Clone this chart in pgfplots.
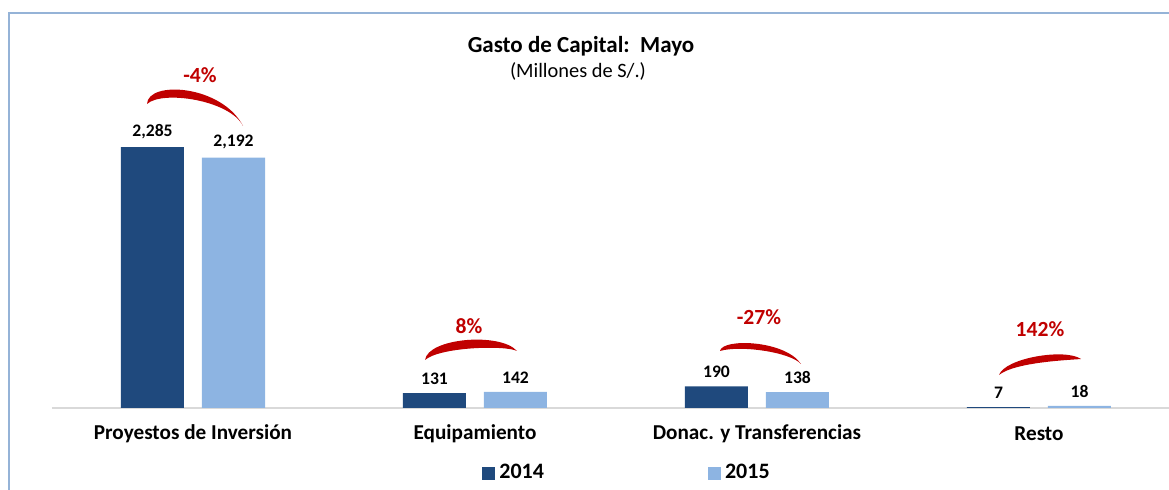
\documentclass[border=0pt]{standalone}
\usepackage{pgfplots}
\pgfplotsset{compat=1.18}
\usepackage{fontspec}
\setmainfont{Carlito}
\definecolor{y2014}{RGB}{31,73,125}
\definecolor{y2015}{RGB}{141,180,226}
\definecolor{pctred}{RGB}{192,0,0}
\definecolor{framec}{RGB}{149,179,215}
\begin{document}
\begin{tikzpicture}
\useasboundingbox (0,0) rectangle (584.5pt,245pt);
\begin{axis}[
  at={(26pt,41pt)}, anchor=south west,
  scale only axis, width=558.5pt, height=174pt,
  xmin=-0.5, xmax=3.461, ymin=0, ymax=3047,
  ybar=9pt, bar width=31.5pt,
  axis x line=bottom, axis y line=none,
  x axis line style={draw=black!15, line width=0.8pt, -},
  xtick={0,1,2,3}, major tick length=0,
  xticklabels={Proyestos de Inversión, Equipamiento, Donac. y Transferencias, Resto},
  xticklabel style={font=\bfseries\fontsize{10.6}{12}\selectfont, anchor=center, yshift=-13pt},
  ytick=\empty,
  /pgf/number format/assume math mode=true,
  nodes near coords,
  nodes near coords style={font=\bfseries\fontsize{8.8}{10}\selectfont, text=black, anchor=south, inner sep=0pt, yshift=4pt, /pgf/number format/1000 sep={,}},
  legend columns=2,
  legend image code/.code={\fill[#1] (0pt,-3.25pt) rectangle (6.5pt,3.25pt);},
  legend style={at={(0.385,-0.187)}, anchor=west, draw=none, fill=none, inner sep=0pt,
    font=\bfseries\fontsize{11}{13}\selectfont, /tikz/every even column/.append style={column sep=80pt}},
]
\addplot[fill=y2014, draw=none] coordinates {(0,2285) (1,131) (2,190) (3,7)};
\addplot[fill=y2015, draw=none] coordinates {(0,2192) (1,142) (2,138) (3,18)};
\legend{2014, 2015}
\end{axis}
\begin{scope}[x=0.5pt, y=-0.5pt, yshift=245pt]
  \draw[framec, line width=1pt] (9,500) -- (9,13) -- (1180,13);
  \node[font=\bfseries\fontsize{11.5}{13}\selectfont] at (581,46) {Gasto de Capital:\ \ Mayo};
  \node[font=\fontsize{10.2}{12}\selectfont] at (578,71) {(Millones de S/.)};
  \begin{scope}[font=\bfseries\fontsize{10.8}{12}\selectfont, pctred]
    \node at (200,75) {-4\%};
    \node at (469,326) {8\%};
    \node at (759,317) {-27\%};
    \node at (1040,329) {142\%};
    \fill (147,104) .. controls (148,80) and (222,85) .. (243,126)
          .. controls (230,100) and (162,90) .. (147,104) -- cycle;
    \fill (425,360) .. controls (428,338) and (500,332) .. (517,351)
          .. controls (505,345) and (440,347) .. (425,360) -- cycle;
    \fill (720,351) .. controls (722,338) and (785,340) .. (801,364)
          .. controls (790,352) and (740,345) .. (720,351) -- cycle;
    \fill (999,375) .. controls (1005,358) and (1065,348) .. (1081,359)
          .. controls (1070,360) and (1015,362) .. (999,375) -- cycle;
  \end{scope}
\end{scope}
\end{tikzpicture}
\end{document}
